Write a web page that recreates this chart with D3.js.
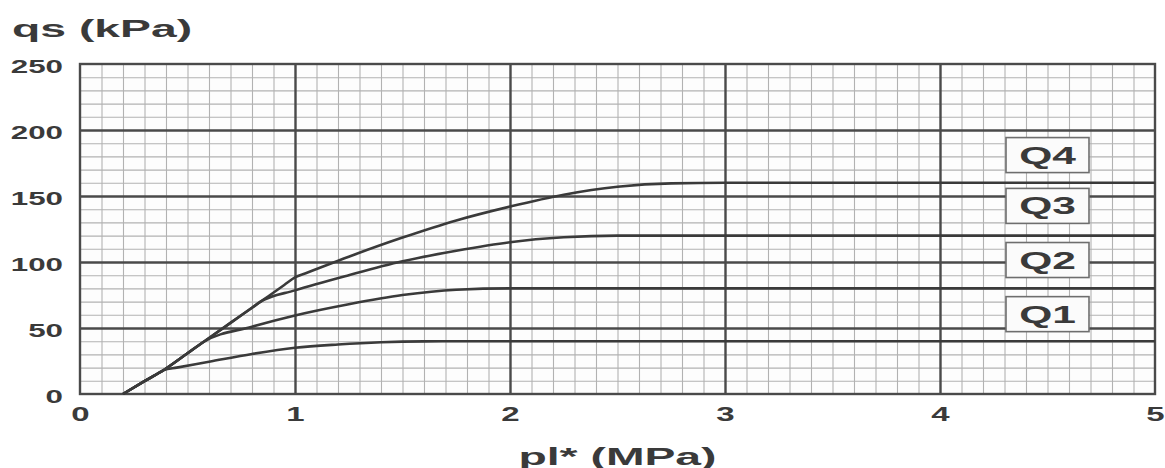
<!DOCTYPE html>
<html>
<head>
<meta charset="utf-8">
<script src="https://cdn.jsdelivr.net/npm/d3@7"></script>
<style>
  html, body { margin: 0; padding: 0; background: #ffffff; }
  svg { display: block; }
  text { font-family: "Liberation Sans", Arial, sans-serif; font-weight: bold; fill: #3a3a3a; }
</style>
</head>
<body>
<svg id="chart" width="1165" height="468"></svg>
<script>
// Unit skin friction qs (kPa) against net limit pressure pl* (MPa), curves Q1..Q4
const xTicks = [0, 1, 2, 3, 4, 5];
const yTicks = [0, 50, 100, 150, 200, 250];

// pl* values (MPa) and qs values (kPa) for each curve;
// all four share the same initial straight stretch before branching off
const q1X = [0.2, 0.3, 0.36, 0.39, 0.45, 0.6, 0.8, 1.0, 1.2, 1.4, 1.6, 1.8, 5.0];
const q1Y = [0, 9.7, 15.5, 18.2, 20.0, 24.4, 30.3, 35, 37.5, 39.2, 39.9, 40, 40];

const q2X = [0.2, 0.3, 0.39, 0.5, 0.574, 0.8, 1.0, 1.25, 1.5, 1.75, 2.0, 5.0];
const q2Y = [0, 9.7, 18.2, 30.85, 39.4, 51, 59.5, 68, 75, 79, 80, 80];

const q3X = [0.2, 0.3, 0.39, 0.5, 0.574, 0.7, 0.8, 0.84, 1.0, 1.25, 1.5, 1.75, 2.0, 2.25, 2.5, 5.0];
const q3Y = [0, 9.7, 18.2, 30.85, 39.4, 53.9, 65.35, 69.95, 78.5, 90, 100.5, 108.5, 115, 118.7, 120, 120];

const q4X = [0.2, 0.3, 0.39, 0.5, 0.574, 0.7, 0.8, 0.84, 0.95, 1.0, 1.05, 1.25, 1.5, 1.75, 2.0, 2.25, 2.5, 2.75, 3.0, 5.0];
const q4Y = [0, 9.7, 18.2, 30.85, 39.4, 53.9, 65.35, 69.95, 82.6, 88.4, 91.5, 104, 118.5, 131.5, 142, 151, 157, 159.6, 160, 160];

const curveNames = ["Q1", "Q2", "Q3", "Q4"];
// label box anchors (pl*, qs) for the curve names
const labelX = [4.5, 4.5, 4.5, 4.5];
const labelY = [60.5, 101.5, 142.5, 181];

const series = [
  { name: "Q1", xs: q1X, ys: q1Y },
  { name: "Q2", xs: q2X, ys: q2Y },
  { name: "Q3", xs: q3X, ys: q3Y },
  { name: "Q4", xs: q4X, ys: q4Y }
];

const svg = d3.select("#chart");
const x = d3.scaleLinear().domain([0, 5]).range([80, 1155]);
const y = d3.scaleLinear().domain([0, 250]).range([394, 64]);

const pL = x(0), pR = x(5), pT = y(250), pB = y(0);

// plot background
svg.append("rect")
  .attr("x", pL).attr("y", pT)
  .attr("width", pR - pL).attr("height", pB - pT)
  .attr("fill", "#fdfdfd");

// minor grid: every 0.1 MPa and every 10 kPa
const gMinor = svg.append("g");
gMinor.append("g")
  .attr("transform", `translate(0,${pB})`)
  .call(d3.axisBottom(x).tickValues(d3.range(1, 50).map(i => i / 10)).tickSize(-(pB - pT)).tickFormat(""))
  .call(g => g.select(".domain").remove())
  .selectAll("line").attr("stroke", "#b2b2b2").attr("stroke-width", 1.1);
gMinor.append("g")
  .attr("transform", `translate(${pL},0)`)
  .call(d3.axisLeft(y).tickValues(d3.range(1, 25).map(i => i * 10)).tickSize(-(pR - pL)).tickFormat(""))
  .call(g => g.select(".domain").remove())
  .selectAll("line").attr("stroke", "#b2b2b2").attr("stroke-width", 1.1);

// major grid: every 1 MPa and every 50 kPa
const gMajor = svg.append("g");
gMajor.append("g")
  .attr("transform", `translate(0,${pB})`)
  .call(d3.axisBottom(x).tickValues(xTicks.slice(1, -1)).tickSize(-(pB - pT)).tickFormat(""))
  .call(g => g.select(".domain").remove())
  .selectAll("line").attr("stroke", "#4a4a4a").attr("stroke-width", 2.4);
gMajor.append("g")
  .attr("transform", `translate(${pL},0)`)
  .call(d3.axisLeft(y).tickValues(yTicks.slice(1, -1)).tickSize(-(pR - pL)).tickFormat(""))
  .call(g => g.select(".domain").remove())
  .selectAll("line").attr("stroke", "#4a4a4a").attr("stroke-width", 2.4);

// frame
svg.append("rect")
  .attr("x", pL).attr("y", pT)
  .attr("width", pR - pL).attr("height", pB - pT)
  .attr("fill", "none").attr("stroke", "#4a4a4a").attr("stroke-width", 2.4);

// curves
const line = d3.line().x(d => x(d[0])).y(d => y(d[1])).curve(d3.curveMonotoneX);
svg.append("g").selectAll("path")
  .data(series)
  .join("path")
  .attr("d", s => line(s.xs.map((v, i) => [v, s.ys[i]])))
  .attr("fill", "none")
  .attr("stroke", "#3a3a3a")
  .attr("stroke-width", 2.6)
  .attr("stroke-linejoin", "round");

// curve name boxes
const boxW = 83, boxH = 35;
const labels = svg.append("g").selectAll("g")
  .data(curveNames)
  .join("g")
  .attr("transform", (d, i) => `translate(${x(labelX[i])},${y(labelY[i])})`);
labels.append("rect")
  .attr("x", -boxW / 2).attr("y", -boxH / 2)
  .attr("width", boxW).attr("height", boxH)
  .attr("fill", "#fbfbfb").attr("stroke", "#6e6e6e").attr("stroke-width", 1.6);
labels.append("text")
  .attr("text-anchor", "middle")
  .attr("transform", "translate(0,8.5) scale(1.85,1)")
  .attr("font-size", 23)
  .text(d => d);

// axis tick labels
const axX = svg.append("g")
  .attr("transform", `translate(0,${pB})`)
  .call(d3.axisBottom(x).tickValues(xTicks).tickSize(0).tickPadding(0).tickFormat(d3.format("d")));
axX.select(".domain").remove();
axX.selectAll("text")
  .attr("y", 0).attr("dy", null)
  .attr("font-size", 20)
  .attr("font-family", null)
  .attr("fill", null)
  .attr("transform", "translate(0,27) scale(1.65,1)");

const axY = svg.append("g")
  .attr("transform", `translate(${pL},0)`)
  .call(d3.axisLeft(y).tickValues(yTicks).tickSize(0).tickPadding(0).tickFormat(d3.format("d")));
axY.select(".domain").remove();
axY.selectAll("text")
  .attr("x", 0).attr("dy", null)
  .attr("font-size", 19)
  .attr("font-family", null)
  .attr("fill", null)
  .attr("text-anchor", "end")
  .attr("transform", "translate(-17,8.5) scale(1.65,1)");

// axis titles
svg.append("text")
  .attr("transform", "translate(12,37) scale(1.93,1)")
  .attr("font-size", 24)
  .text("qs (kPa)");
svg.append("text")
  .attr("text-anchor", "middle")
  .attr("transform", `translate(${(pL + pR) / 2},465) scale(1.93,1)`)
  .attr("font-size", 24)
  .text("pl* (MPa)");
</script>
</body>
</html>
